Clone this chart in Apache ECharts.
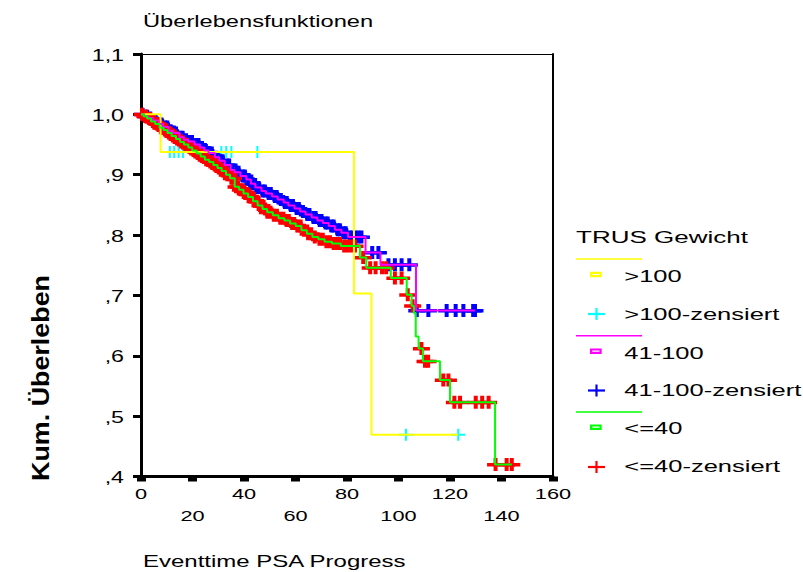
<!DOCTYPE html>
<html>
<head>
<meta charset="utf-8">
<script src="https://cdn.jsdelivr.net/npm/echarts@6/dist/echarts.min.js"></script>
<style>
  html, body { margin: 0; padding: 0; background: #fff; }
  #chart { width: 803px; height: 572px; }
</style>
</head>
<body>
<div id="chart"></div>
<script>
// Kaplan-Meier survival by TRUS weight group, time to PSA progression

const xTicks = [0, 20, 40, 60, 80, 100, 120, 140, 160];
const yTicks = [1.1, 1.0, 0.9, 0.8, 0.7, 0.6, 0.5, 0.4];
const yTickLabels = ['1,1', '1,0', ',9', ',8', ',7', ',6', ',5', ',4'];

const groupNames = ['>100', '41-100', '<=40'];
const censoredNames = ['>100-zensiert', '41-100-zensiert', '<=40-zensiert'];

// group >100: event times and survival after each event, censored times
const over100Time = [0, 7.6, 82.7, 89.5];
const over100Surv = [1.0, 0.9375, 0.703, 0.469];
const over100Censored = [11.2, 12.9, 14.6, 16.3, 31.2, 33.1, 35.1, 45.2, 102.9, 123.2];

// group 41-100
const mid41Time = [0, 1.2, 2.9, 4.6, 6.8, 8.5, 10.7, 12.4, 14.9, 16.6, 18.3, 20.8, 22.9,
  24.6, 26.2, 28.7, 30.4, 32.5, 34.8, 36.3, 38.6, 40.9, 42.7, 44.4, 46.8, 48.5, 50.9,
  53.1, 55.4, 57.2, 59.6, 61.8, 63.9, 66.3, 68.5, 70.6, 72.9, 75.3, 77.8, 80.4, 87.2,
  93.0, 106.8];
const mid41Surv = [1.0, 0.997, 0.994, 0.990, 0.984, 0.979, 0.973, 0.969, 0.962, 0.958,
  0.955, 0.950, 0.945, 0.940, 0.936, 0.929, 0.923, 0.916, 0.908, 0.904, 0.898, 0.892,
  0.885, 0.879, 0.873, 0.869, 0.864, 0.859, 0.854, 0.849, 0.844, 0.839, 0.834, 0.829,
  0.824, 0.820, 0.815, 0.809, 0.804, 0.797, 0.771, 0.751, 0.675];
const mid41Censored = [0.6, 1.8, 2.4, 3.6, 4.9, 5.7, 7.3, 8.0, 9.4, 10.2, 11.5, 12.9, 13.6,
  15.4, 16.1, 17.5, 18.9, 19.8, 21.4, 22.3, 23.7, 25.2, 26.8, 27.5, 29.3, 30.9, 31.7,
  33.4, 34.2, 35.6, 37.1, 37.9, 39.5, 40.3, 41.8, 43.4, 44.9, 45.7, 47.3, 48.1, 49.6,
  50.4, 52.0, 52.7, 54.3, 55.9, 56.6, 58.2, 59.0, 60.5, 61.3, 62.9, 64.6, 65.4, 67.0,
  67.8, 69.4, 70.1, 71.7, 72.5, 74.0, 74.8, 76.4, 77.2, 78.7, 79.5, 81.1, 82.0, 83.2,
  84.4, 85.6, 89.8, 92.2, 96.1, 98.6, 101.2, 104.2, 107.1, 111.6, 118.7, 122.2, 125.2,
  129.0, 129.7];

// group <=40
const le40Time = [0, 1.0, 2.4, 3.9, 5.5, 7.2, 8.8, 10.3, 11.9, 13.6, 15.2, 16.7, 18.4,
  19.9, 21.6, 23.2, 24.8, 26.5, 28.1, 29.7, 31.3, 33.0, 34.6, 36.4, 38.1, 39.8, 41.6,
  43.5, 45.3, 47.2, 49.0, 51.2, 53.4, 55.7, 57.9, 60.1, 62.3, 64.4, 66.6, 68.9, 71.3,
  74.2, 77.6, 85.0, 87.5, 97.0, 103.2, 105.1, 106.0, 106.7, 107.8, 109.5, 116.1, 120.0,
  137.5];
const le40Surv = [1.0, 0.997, 0.993, 0.988, 0.984, 0.978, 0.974, 0.969, 0.964, 0.959,
  0.954, 0.950, 0.945, 0.940, 0.935, 0.930, 0.925, 0.921, 0.916, 0.911, 0.906, 0.900,
  0.894, 0.880, 0.875, 0.869, 0.863, 0.856, 0.849, 0.843, 0.838, 0.833, 0.828, 0.824,
  0.819, 0.815, 0.808, 0.802, 0.797, 0.793, 0.789, 0.786, 0.782, 0.763, 0.746, 0.729,
  0.701, 0.683, 0.671, 0.632, 0.612, 0.591, 0.560, 0.523, 0.420];
const le40Censored = [0.4, 1.5, 2.0, 3.1, 3.5, 4.6, 5.0, 6.2, 6.6, 7.7, 8.3, 9.3, 9.9,
  10.8, 11.5, 12.4, 13.1, 14.0, 14.7, 15.6, 16.3, 17.2, 17.9, 18.8, 19.5, 20.4, 21.1,
  22.0, 22.7, 23.6, 24.4, 25.3, 26.0, 26.9, 27.7, 28.6, 29.3, 30.2, 30.9, 31.8, 32.6,
  33.5, 34.2, 35.1, 35.9, 36.9, 37.7, 38.6, 39.4, 40.5, 41.3, 42.4, 43.2, 44.3, 45.1,
  46.2, 47.0, 48.2, 49.1, 50.3, 51.6, 52.8, 54.1, 55.3, 56.6, 57.4, 58.7, 59.5, 60.8,
  62.0, 63.3, 64.9, 66.1, 67.5, 69.3, 70.6, 72.0, 73.4, 74.8, 76.1, 77.3, 78.9, 80.2,
  81.6, 83.1, 86.3, 89.0, 91.1, 93.6, 95.2, 98.6, 101.2, 103.6, 105.5, 108.9, 110.3,
  111.5, 117.4, 119.4, 121.7, 123.9, 130.0, 132.5, 135.0, 137.7, 142.0, 144.0];

const lineColors = ['#ffff00', '#ff00ff', '#00ff00'];
const markColors = ['#00ffff', '#0000ff', '#ff0000'];

// step value of a survival curve at time t
function survivalAt(times, surv, t) {
  let s = surv[0];
  for (let i = 0; i < times.length; i++) if (times[i] <= t) s = surv[i];
  return s;
}
// staircase points, extended to the last follow-up time
function curvePoints(times, surv, censored) {
  const pts = times.map((t, i) => [t, surv[i]]);
  const last = Math.max(times[times.length - 1], ...censored);
  pts.push([last, surv[surv.length - 1]]);
  return pts;
}

const PLUS_THIN = 'path://M0,5H6V0H8V5H14V7H8V12H6V7H0Z';
const PLUS_BOLD = 'path://M0,5H6.5V0H10.5V5H17V8.5H10.5V13H6.5V8.5H0Z';

const groups = [
  [over100Time, over100Surv, over100Censored, PLUS_THIN, [14, 12]],
  [mid41Time, mid41Surv, mid41Censored, PLUS_BOLD, [17, 13]],
  [le40Time, le40Surv, le40Censored, PLUS_BOLD, [17, 13]]
];

const series = [];
groups.forEach(([times, surv, cens, sym, size], g) => {
  series.push({
    type: 'line', name: groupNames[g], step: 'end', symbol: 'none', silent: true,
    data: curvePoints(times, surv, cens),
    lineStyle: { color: lineColors[g], width: 2 }
  });
  series.push({
    type: 'scatter', name: censoredNames[g], symbol: sym, symbolSize: size, silent: true,
    data: cens.map(t => [t, survivalAt(times, surv, t)]),
    itemStyle: { color: markColors[g], opacity: 1 }
  });
});

const chart = echarts.init(document.getElementById('chart'), null, { renderer: 'svg' });
const FONT = '"Liberation Sans", Arial, sans-serif';

chart.setOption({
  animation: false,
  backgroundColor: '#ffffff',
  grid: { left: 141, top: 54, width: 412, height: 422.5, containLabel: false },
  xAxis: [
    { type: 'value', min: 0, max: 160, interval: 20,
      axisLine: { show: true, onZero: false, lineStyle: { color: '#000', width: 3 } },
      axisTick: { show: true, length: 5, lineStyle: { color: '#000', width: 9 } },
      axisLabel: { show: false }, splitLine: { show: false } },
    { type: 'value', position: 'top', min: 0, max: 160, interval: 20,
      axisLine: { show: true, onZero: false, lineStyle: { color: '#000', width: 1 } },
      axisTick: { show: false }, axisLabel: { show: false }, splitLine: { show: false } }
  ],
  yAxis: [
    { type: 'value', min: 0.4, max: 1.1, interval: 0.1,
      axisLine: { show: true, onZero: false, lineStyle: { color: '#000', width: 3 } },
      axisTick: { show: true, length: 8, lineStyle: { color: '#000', width: 3 } },
      axisLabel: { show: false }, splitLine: { show: false } },
    { type: 'value', position: 'right', min: 0.4, max: 1.1, interval: 0.1,
      axisLine: { show: true, onZero: false, lineStyle: { color: '#000', width: 2 } },
      axisTick: { show: false }, axisLabel: { show: false }, splitLine: { show: false } }
  ],
  series: series
});

// stretched text, as in the exported figure
function label(text, x, y, align, size, sx, extra) {
  return Object.assign({
    type: 'text', x: x, y: y, scaleX: sx, silent: true, z: 100,
    style: { text: text, font: size + 'px ' + FONT, fill: '#000',
      textAlign: align, textVerticalAlign: 'middle', align: align, verticalAlign: 'middle' }
  }, extra || {});
}

const g = [];
xTicks.forEach((v, i) => {
  const px = chart.convertToPixel({ xAxisIndex: 0 }, v);
  g.push(label(String(v), px, i % 2 === 0 ? 493.5 : 516, 'center', 15, 1.45));
});
yTicks.forEach((v, i) => {
  const py = chart.convertToPixel({ yAxisIndex: 0 }, v);
  g.push(label(yTickLabels[i], 124, py + 1, 'right', 16, 1.45));
});
g.push(label('Überlebensfunktionen', 143, 21, 'left', 16, 1.48));
g.push(label('Eventtime PSA Progress', 143, 562, 'left', 16, 1.5));
g.push({
  type: 'text', x: 41, y: 378, rotation: Math.PI / 2, scaleX: 1.12, silent: true,
  style: { text: 'Kum. Überleben', font: 'bold 24px "Liberation Sans Narrow", ' + FONT,
    fill: '#000', textAlign: 'center', textVerticalAlign: 'middle', align: 'center', verticalAlign: 'middle' }
});

// legend
g.push(label('TRUS Gewicht', 576, 237, 'left', 17, 1.53));
const sepY = [259, 335.7, 412];
const boxY = [274.5, 351.2, 427.2];
const plusY = [314, 390.5, 467];
const nameY = [275.7, 353, 428];
const cnameY = [314, 390, 466];
for (let k = 0; k < 3; k++) {
  g.push({ type: 'line', silent: true, shape: { x1: 576, y1: sepY[k], x2: 642, y2: sepY[k] },
    style: { stroke: lineColors[k], lineWidth: 1.5 } });
  g.push({ type: 'rect', silent: true, shape: { x: 591.1, y: boxY[k] - 1.7, width: 9.5, height: 3.4 },
    style: { fill: '#fff', stroke: lineColors[k], lineWidth: 2.2 } });
  g.push({ type: 'line', silent: true, shape: { x1: 588, y1: plusY[k], x2: 605, y2: plusY[k] },
    style: { stroke: markColors[k], lineWidth: 2.2 } });
  g.push({ type: 'line', silent: true, shape: { x1: 596.5, y1: plusY[k] - 6, x2: 596.5, y2: plusY[k] + 6 },
    style: { stroke: markColors[k], lineWidth: 2.2 } });
  g.push(label(groupNames[k], 624.3, nameY[k], 'left', 17, 1.5));
  g.push(label(censoredNames[k], 624.3, cnameY[k], 'left', 17, 1.5));
}

chart.setOption({ graphic: { elements: g } });
</script>
</body>
</html>
